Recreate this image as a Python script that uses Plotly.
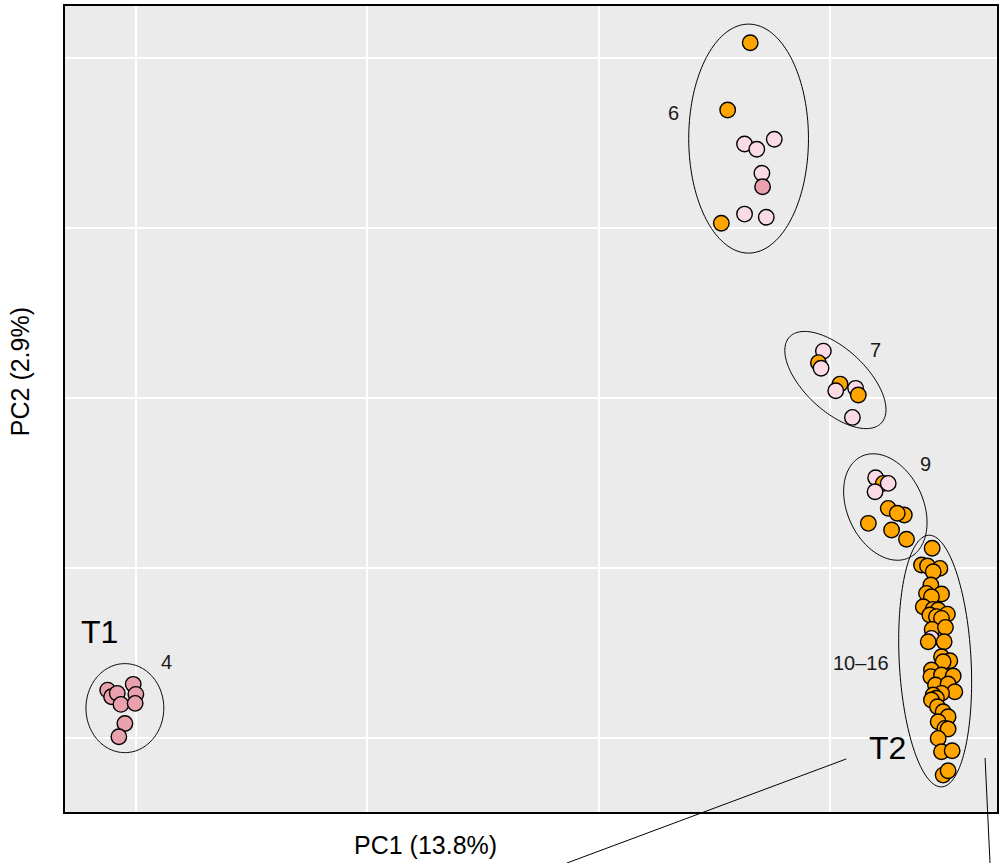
import numpy as np
import plotly.graph_objects as go

# ---- PCA scores (PC1, PC2) per cluster; class code per sample ----
# class codes: "O" = orange group, "P" = light pink group, "R" = rose group
c4_pc1 = [-22.47, -22.13, -21.64, -21.32, -20.26, -20.03, -20.09, -20.98, -21.50]
c4_pc2 = [-17.18, -17.57, -17.37, -18.02, -16.84, -17.43, -17.96, -19.14, -19.92]
c4_cls = ["R", "R", "R", "R", "R", "R", "R", "R", "R"]

c6_pc1 = [33.12, 31.17, 32.63, 33.69, 35.20, 34.13, 34.19, 32.63, 34.51, 30.62]
c6_pc2 = [20.90, 16.94, 14.94, 14.63, 15.22, 13.22, 12.43, 10.82, 10.63, 10.28]
c6_cls = ["O", "O", "P", "P", "P", "P", "R", "P", "P", "O"]

c7_pc1 = [39.45, 39.02, 39.25, 40.89, 40.52, 42.24, 42.47, 41.96]
c7_pc2 = [2.76, 2.08, 1.75, 0.82, 0.43, 0.57, 0.18, -1.14]
c7_cls = ["P", "O", "P", "O", "P", "P", "O", "P"]

c9_pc1 = [43.97, 44.63, 45.06, 43.92, 45.06, 46.45, 45.84, 43.34, 45.35, 46.64]
c9_pc2 = [-4.69, -5.02, -5.02, -5.51, -6.49, -6.88, -6.78, -7.37, -7.76, -8.31]
c9_cls = ["P", "O", "P", "P", "O", "O", "O", "O", "O", "O"]

c10_pc1 = [48.86, 47.94, 48.46, 49.53, 48.95, 48.75, 48.37, 49.67, 48.80, 48.09,
           48.95, 49.38, 50.18, 48.66, 49.23, 49.67, 48.86, 50.01, 48.80, 48.52,
           49.90, 49.67, 50.39, 49.81, 48.80, 48.75, 49.67, 50.68, 49.15, 50.24,
           50.82, 49.67, 48.95, 49.23, 48.80, 49.32, 49.81, 50.24, 49.38, 49.96,
           50.24, 49.38, 49.67, 50.59, 49.81, 50.24]
c10_pc2 = [-8.84, -9.82, -9.88, -10.02, -10.22, -11.00, -11.49, -11.53, -11.69, -12.28,
           -12.43, -12.47, -12.71, -12.76, -12.86, -12.96, -13.61, -13.49, -14.14, -14.34,
           -14.34, -15.22, -15.45, -15.51, -16.00, -16.39, -16.29, -16.35, -16.88, -16.82,
           -17.28, -17.37, -17.47, -17.66, -17.76, -18.16, -18.45, -18.75, -19.04, -19.43,
           -19.47, -20.02, -20.81, -20.75, -22.18, -21.92]
c10_cls = ["O"] * 18 + ["P"] + ["O"] * 27

class_colors = {"O": "#FFA500", "P": "#F9DAE5", "R": "#E9A1AD"}

# cluster ellipses: centre (PC1, PC2), semi-axes in px, tilt in degrees (clockwise)
ellipses = [
    (-20.98, -18.24, 44.5, 39, 90),
    (32.98, 15.26, 114.5, 60, 90),
    (40.49, 1.06, 63, 31, 43),
    (44.81, -6.41, 56, 38, 65),
    (49.12, -15.47, 126, 36, 87),
]

# cluster labels
cluster_labels = ["4", "6", "7", "9", "10\u201316"]
cluster_label_pos = [(-17.35, -15.53), (26.50, 16.76), (43.94, 2.82), (48.26, -3.88), (42.73, -15.59)]
group_labels = ["T1", "T2"]
group_label_pos = [(-23.14, -13.76), (44.98, -20.59)]

X_RANGE = [-26.16, 54.47]
Y_RANGE = [-24.35, 23.06]
X_TICKS = [-20, 0, 20, 40]
Y_TICKS = [-20, -10, 0, 10, 20]

W, H = 1001, 863
M = dict(l=65, r=2, t=6, b=51)
PW = W - M["l"] - M["r"]
PH = H - M["t"] - M["b"]
SX = PW / (X_RANGE[1] - X_RANGE[0])
SY = PH / (Y_RANGE[1] - Y_RANGE[0])

FONT = "Liberation Sans, Arial, sans-serif"

fig = go.Figure()

xs = c4_pc1 + c6_pc1 + c7_pc1 + c9_pc1 + c10_pc1
ys = c4_pc2 + c6_pc2 + c7_pc2 + c9_pc2 + c10_pc2
cls = c4_cls + c6_cls + c7_cls + c9_cls + c10_cls

fig.add_trace(go.Scatter(
    x=xs, y=ys, mode="markers",
    marker=dict(size=15.5, color=[class_colors[c] for c in cls],
                line=dict(color="black", width=1.4)),
    showlegend=False, hoverinfo="x+y",
))


def ellipse_path(cx, cy, a, b, theta_deg, n=160):
    t = np.linspace(0, 2 * np.pi, n, endpoint=False)
    th = np.radians(theta_deg)
    dx = a * np.cos(t) * np.cos(th) - b * np.sin(t) * np.sin(th)
    dy = a * np.cos(t) * np.sin(th) + b * np.sin(t) * np.cos(th)
    px = cx + dx / SX
    py = cy - dy / SY
    return "M " + " L ".join(f"{u:.4f},{v:.4f}" for u, v in zip(px, py)) + " Z"


for cx, cy, a, b, th in ellipses:
    fig.add_shape(type="path", path=ellipse_path(cx, cy, a, b, th),
                  xref="x", yref="y", line=dict(color="black", width=1),
                  layer="between")

for txt, (lx, ly) in zip(cluster_labels, cluster_label_pos):
    fig.add_annotation(x=lx, y=ly, text=txt, showarrow=False,
                       font=dict(family=FONT, size=20, color="#1a1a1a"))
for txt, (lx, ly) in zip(group_labels, group_label_pos):
    fig.add_annotation(x=lx, y=ly, text=txt, showarrow=False,
                       font=dict(family=FONT, size=32, color="black"))

# leader lines running off the lower edge
fig.add_shape(type="line", xref="paper", yref="paper",
              x0=0.8383, y0=0.0658, x1=0.5385, y1=-0.0633,
              line=dict(color="black", width=1))
fig.add_shape(type="line", xref="paper", yref="paper",
              x0=0.9872, y0=0.0670, x1=0.9925, y1=-0.0633,
              line=dict(color="black", width=1))

# axis titles
fig.add_annotation(xref="paper", yref="paper", x=0.3865, y=-0.041,
                   text="PC1 (13.8%)", showarrow=False, yanchor="middle",
                   font=dict(family=FONT, size=25, color="black"))
fig.add_annotation(xref="paper", yref="paper", x=-0.048, y=0.546,
                   text="PC2 (2.9%)", showarrow=False, textangle=-90,
                   xanchor="center", yanchor="middle",
                   font=dict(family=FONT, size=25, color="black"))

axis_common = dict(showgrid=True, gridcolor="white", gridwidth=2,
                   zeroline=False, showticklabels=False, ticks="",
                   showline=True, linecolor="black", linewidth=1.5, mirror=True)
fig.update_xaxes(range=X_RANGE, tickvals=X_TICKS, **axis_common)
fig.update_yaxes(range=Y_RANGE, tickvals=Y_TICKS, **axis_common)

fig.update_layout(
    width=W, height=H, margin=M,
    plot_bgcolor="#EBEBEB", paper_bgcolor="white",
    font=dict(family=FONT),
)

fig.write_html("out.html")
